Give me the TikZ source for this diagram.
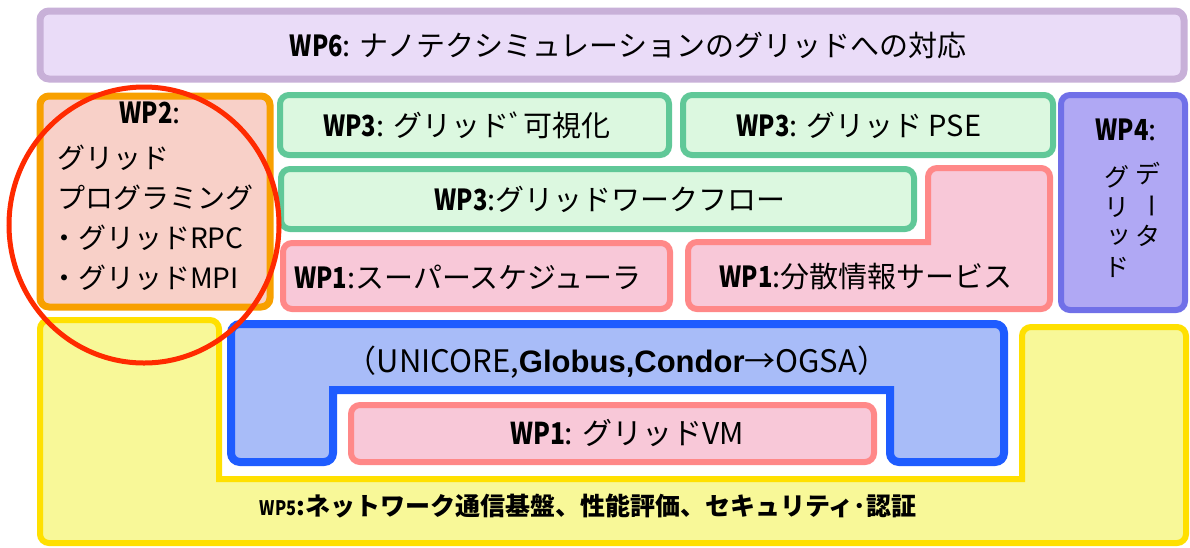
\documentclass[tikz,border=0pt]{standalone}
\usepackage{fontspec}
\setmainfont{Noto Sans CJK JP}
\newfontfamily\wpf{Noto Sans CJK JP}[FakeStretch=0.82]
\newfontfamily\lib{Liberation Sans}
\newcommand{\wpl}[1]{{\wpf\bfseries #1}}
\definecolor{lavS}{HTML}{C8B0D8}\definecolor{lavF}{HTML}{EADCF8}
\definecolor{orS}{HTML}{F8A000}\definecolor{orF}{HTML}{F8D0C8}
\definecolor{grS}{HTML}{60C898}\definecolor{grF}{HTML}{DCF8E0}
\definecolor{pkS}{HTML}{FF8888}\definecolor{pkF}{HTML}{F8C8D8}
\definecolor{puS}{HTML}{7070E8}\definecolor{puF}{HTML}{B0A8F4}
\definecolor{blS}{HTML}{1E5CFF}\definecolor{blF}{HTML}{A8BCF8}
\definecolor{yeS}{HTML}{FFE000}\definecolor{yeF}{HTML}{F8F898}
\definecolor{ciR}{HTML}{FF2A00}
\tikzset{
  box/.style={line width=6pt, rounded corners=9pt},
  lav/.style={box, draw=lavS, fill=lavF, line width=7pt},
  orb/.style={box, draw=orS, fill=orF, line width=7pt},
  grb/.style={box, draw=grS, fill=grF},
  pkb/.style={box, draw=pkS, fill=pkF},
  pub/.style={box, draw=puS, fill=puF},
  blb/.style={box, draw=blS, fill=blF, line width=8pt},
  yeb/.style={box, draw=yeS, fill=yeF},
  lbl/.style={inner sep=0pt, font=\fontsize{29}{32}\selectfont},
  vlbl/.style={inner sep=0pt, font=\fontsize{25}{28}\selectfont},
}
\begin{document}
\begin{tikzpicture}[x=1pt,y=-1pt]
\useasboundingbox (0,0) rectangle (1190,547);
\fill[white] (0,0) rectangle (1190,547);
% WP6
\draw[lav] (40,11) rectangle (1184,79);
\node[lbl] (wp6) at (628,45) {\wpl{WP6}: ナノテクシミュレーションのグリッドへの対応};
% WP2
\draw[orb] (40,96) rectangle (270,307);
\node[lbl] (wp2) at (150,113) {\wpl{WP2}:};
\node[lbl, anchor=west, font=\fontsize{28}{30}\selectfont] (wp2a) at (57,158) {グリッド};
\node[lbl, anchor=west, font=\fontsize{28}{30}\selectfont] (wp2b) at (57,198) {プログラミング};
\node[lbl, anchor=west, font=\fontsize{28}{30}\selectfont] (wp2c) at (50,238) {・グリッドRPC};
\node[lbl, anchor=west, font=\fontsize{28}{30}\selectfont] (wp2d) at (50,278) {・グリッドMPI};
% WP3 boxes
\draw[grb] (280,95) rectangle (669,155);
\node[lbl] (vis) at (467,125) {\wpl{WP3}: グリッドﾞ可視化};
\draw[grb] (683,95) rectangle (1053,155);
\node[lbl] (pse) at (859,125) {\wpl{WP3}: グリッド PSE};
\draw[grb] (281,169) rectangle (914,229);
\node[lbl] (wf) at (610,199) {\wpl{WP3}:グリッドワークフロー};
% WP1 boxes
\draw[pkb] (283,243) rectangle (670,309);
\node[lbl] (ss) at (468,277) {\wpl{WP1}:スーパースケジューラ};
\draw[pkb] (928,168) -- (1050,168) -- (1050,309) -- (688,309) -- (688,242) [sharp corners] -- (928,242) [rounded corners=9pt] -- cycle;
\node[lbl] (dist) at (866,277) {\wpl{WP1}:分散情報サービス};
% WP4
\draw[pub] (1061,95) rectangle (1185,310);
\node[lbl] (wp4) at (1126,130) {\wpl{WP4}:};
\node[vlbl] (v1) at (1148,174) {デ};
\node[vlbl, rotate=-90] (v2) at (1148,206) {ー};
\node[vlbl] (v3) at (1148,236) {タ};
\node[vlbl] (v4) at (1117,177) {グ};
\node[vlbl] (v5) at (1117,208) {リ};
\node[vlbl] (v6) at (1119,237) {ッ};
\node[vlbl] (v7) at (1117,267) {ド};
% WP5 yellow
\draw[yeb] (40,320) -- (219,320) [sharp corners] -- (219,479) -- (1022,479) [rounded corners=9pt] -- (1022,327) -- (1186,327) -- (1186,543) -- (40,543) -- cycle;
\node[inner sep=0pt, font=\fontsize{25}{28}\selectfont\bfseries] (wp5) at (588,506) {\wpl{\fontsize{20}{22}\selectfont WP5}:ネットワーク通信基盤、性能評価、セキュリティ･認証};
% blue
\draw[blb] (231,324) -- (1004,324) -- (1004,462) -- (890,462) [sharp corners] -- (890,390) -- (333,390) [rounded corners=9pt] -- (333,462) -- (231,462) -- cycle;
\node[lbl, font=\fontsize{31}{34}\selectfont] (mw) at (617,362) {（UNICORE,{\lib\bfseries Globus,Condor}→OGSA）};
% VM
\draw[pkb] (351,405) rectangle (874,462);
\node[lbl, font=\fontsize{30}{32}\selectfont] (vm) at (627,433) {\wpl{WP1}: グリッドVM};
% red circle
\draw[ciR, line width=5pt] (144,225) ellipse [x radius=135, y radius=138];
\end{tikzpicture}
\end{document}
